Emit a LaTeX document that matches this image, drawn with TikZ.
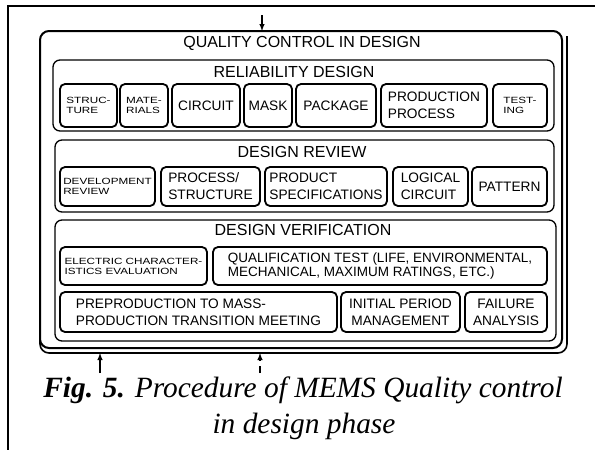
\documentclass[tikz,border=0pt]{standalone}
\usepackage{fontspec}
\setmainfont{Liberation Serif}
\setsansfont{Liberation Sans}
\newfontfamily\widesf[FakeStretch=1.3]{Liberation Sans}
\usetikzlibrary{arrows}

\newcommand{\headfont}{\sffamily\fontsize{16}{18}\selectfont}
\newcommand{\midfont}{\sffamily\fontsize{13.7}{17}\selectfont}
\newcommand{\smallfont}{\widesf\fontsize{9}{10}\selectfont}

\tikzset{
  unitbox/.style={line width=1.8pt,rounded corners=5pt},
  groupbox/.style={line width=1.3pt,rounded corners=7pt},
  frameline/.style={line width=2pt,rounded corners=9pt},
  headtxt/.style={font=\headfont,inner sep=0pt},
  midtxt/.style={font=\midfont,align=left,inner sep=0pt},
  smalltxt/.style={font=\smallfont,align=left,inner sep=0pt},
  flowline/.style={line width=1.4pt,-latex},
}

\begin{document}
\begin{tikzpicture}[x=1pt,y=-1pt]
\useasboundingbox (0,0) rectangle (595,450);
\draw[line width=1.3pt] (8,450) -- (8,6) -- (595,6);

% outer frame
\coordinate (fnw) at (40,31);
\coordinate (fse) at (562,348);
\coordinate (fbot) at (567,353);
\draw[frameline] (fnw) rectangle (fse);
\draw[frameline,line width=1.6pt] (40,330) |- (fbot) -- (567,36);
\node[headtxt] (qc) at (302,43) {QUALITY CONTROL IN DESIGN};

% reliability design
\draw[groupbox] (53,60) rectangle (554,131);
\node[headtxt] (rel) at (294,72) {RELIABILITY DESIGN};
\draw[unitbox] (60,84) rectangle node[smalltxt] (struc) {STRUC-\\TURE} (117,127);
\draw[unitbox] (120,84) rectangle node[smalltxt] (mate) {MATE-\\RIALS} (168,127);
\draw[unitbox] (172,84) rectangle node[midtxt] (circ) {CIRCUIT} (240,127);
\draw[unitbox] (244,84) rectangle node[midtxt] (mask) {MASK} (292,127);
\draw[unitbox] (296,84) rectangle node[midtxt] (pack) {PACKAGE} (376,127);
\draw[unitbox] (381,84) rectangle node[midtxt] (prod) {PRODUCTION\\PROCESS} (487,127);
\draw[unitbox] (493,84) rectangle node[smalltxt] (test) {TEST-\\ING} (547,127);

% design review
\draw[groupbox] (55,140) rectangle (554,212);
\node[headtxt] (rev) at (302,152) {DESIGN REVIEW};
\draw[unitbox] (60,167) rectangle node[smalltxt] (devel) {DEVELOPMENT\\REVIEW} (155,206);
\draw[unitbox] (161,167) rectangle node[midtxt] (proc) {PROCESS/\\STRUCTURE} (260,206);
\draw[unitbox] (265,167) rectangle node[midtxt] (spec) {PRODUCT\\SPECIFICATIONS} (387,206);
\draw[unitbox] (393,167) rectangle node[midtxt] (logic) {LOGICAL\\CIRCUIT} (468,206);
\draw[unitbox] (472,167) rectangle node[midtxt] (patt) {PATTERN} (547,206);

% design verification
\draw[groupbox] (55,220) rectangle (556,341);
\node[headtxt] (ver) at (303,230) {DESIGN VERIFICATION};
\draw[unitbox] (60,247) rectangle node[smalltxt] (elec) {ELECTRIC CHARACTER-\\ISTICS EVALUATION} (207,285);
\draw[unitbox] (213,247) rectangle node[midtxt,font=\sffamily\fontsize{13.5}{14}\selectfont] (qual)
  {QUALIFICATION TEST (LIFE, ENVIRONMENTAL,\\MECHANICAL, MAXIMUM RATINGS, ETC.)} (547,285);
\draw[unitbox] (60,292) rectangle node[midtxt] (prepro) {PREPRODUCTION TO MASS-\\PRODUCTION TRANSITION MEETING} (337,332);
\draw[unitbox] (341,292) rectangle node[midtxt,align=center] (init) {INITIAL PERIOD\\MANAGEMENT} (460,332);
\draw[unitbox] (465,292) rectangle node[midtxt,align=center] (fail) {FAILURE\\ANALYSIS} (547,332);

% flows in and out
\coordinate (qin) at (262,15);
\coordinate (qout) at (100,373);
\coordinate (qnext) at (260,373);
\draw[flowline] (qin) -- (qin |- fnw);
\draw[flowline] (qout) -- (qout |- fbot);
\draw[flowline,dash pattern=on 7pt off 5pt] (qnext) -- (qnext |- fbot);

% caption
\node[font=\itshape\fontsize{29.4}{36}\selectfont,anchor=base,inner sep=0pt] (cap1) at (303,397)
  {\textbf{Fig. 5.} Procedure of MEMS Quality control};
\node[font=\itshape\fontsize{29.4}{36}\selectfont,anchor=base,inner sep=0pt] (cap2) at (304,433)
  {in design phase};
\end{tikzpicture}
\end{document}
